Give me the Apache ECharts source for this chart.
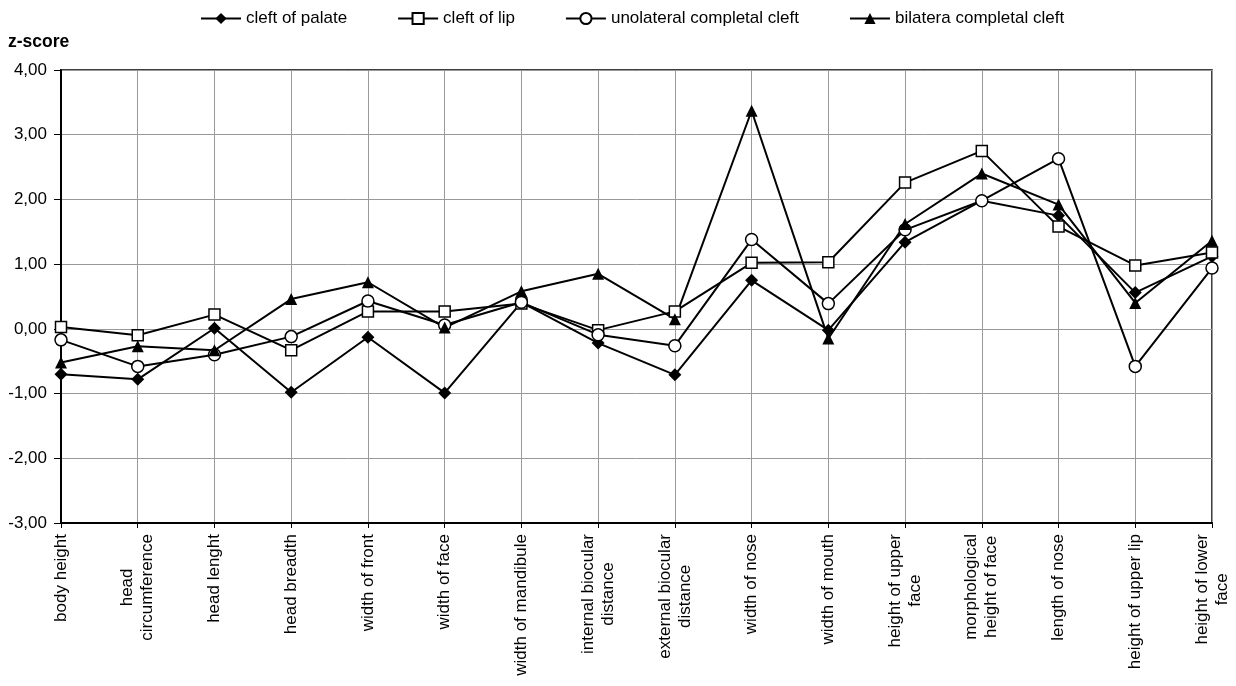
<!DOCTYPE html>
<html>
<head>
<meta charset="utf-8">
<script src="https://cdn.jsdelivr.net/npm/echarts@6/dist/echarts.min.js"></script>
<style>html,body{margin:0;padding:0;background:#fff;}#c{width:1236px;height:686px;}</style>
</head>
<body>
<div id="c"></div>
<script>
const categories = [
  'body height', 'head\ncircumference', 'head lenght', 'head breadth', 'width of front',
  'width of face', 'width of mandibule', 'internal biocular\ndistance', 'external biocular\ndistance',
  'width of nose', 'width of mouth', 'height of upper\nface', 'morphological\nheight of face',
  'length of nose', 'height of upper lip', 'height of lower\nface'
];
const cleftPalate = [-0.70, -0.78, 0.01, -0.98, -0.13, -0.99, 0.41, -0.22, -0.71, 0.75, -0.02, 1.34, 1.98, 1.75, 0.56, 1.12];
const cleftLip = [0.03, -0.10, 0.22, -0.33, 0.27, 0.27, 0.39, -0.02, 0.27, 1.02, 1.03, 2.26, 2.75, 1.58, 0.98, 1.18];
const unilateral = [-0.17, -0.58, -0.40, -0.12, 0.43, 0.06, 0.41, -0.09, -0.26, 1.38, 0.39, 1.53, 1.98, 2.63, -0.58, 0.94];
const bilateral = [-0.52, -0.27, -0.33, 0.46, 0.72, 0.02, 0.58, 0.85, 0.15, 3.37, -0.15, 1.62, 2.40, 1.92, 0.40, 1.36];
const seriesNames = ['cleft of palate', 'cleft of lip', 'unolateral completal cleft', 'bilatera completal cleft'];
const yMin = -3, yMax = 4, yStep = 1;

const FONT = 'Liberation Sans, Arial, sans-serif';
const FS = 17;
const chart = echarts.init(document.getElementById('c'));
function mk(name, data, symbol, size, fill) {
  return {
    name, type: 'line', data, symbol, symbolSize: size, showAllSymbol: true,
    lineStyle: { color: '#000', width: 2 },
    itemStyle: { color: fill, borderColor: '#000', borderWidth: fill === '#fff' ? 1.5 : 0 },
    emphasis: { disabled: true }, animation: false
  };
}
chart.setOption({
  animation: false,
  title: { text: 'z-score', left: 3, top: 28, textStyle: { fontFamily: FONT, fontSize: 17.5, fontWeight: 'bold', color: '#000' } },
  legend: {
    top: 5, left: 195, itemWidth: 40, itemHeight: 14, itemGap: 50,
    textStyle: { fontFamily: FONT, fontSize: FS, color: '#000' },
    data: seriesNames
  },
  grid: { left: 61, right: 24, top: 70, bottom: 163, show: true, borderColor: '#000', borderWidth: 1.5, containLabel: false },
  xAxis: {
    type: 'category', data: categories, boundaryGap: false,
    axisLine: { onZero: false, lineStyle: { color: '#000', width: 2 } },
    axisTick: { show: true, alignWithLabel: true, length: 5, lineStyle: { color: '#000' } },
    splitLine: { show: true, lineStyle: { color: '#999', width: 1 } },
    axisLabel: {
      rotate: 90, margin: 11, interval: 0, color: '#000', fontFamily: FONT, fontSize: FS,
      formatter: v => v.split('\n').map(l => '{c|' + l + '}').join('\n'),
      rich: { c: { align: 'center', fontFamily: FONT, fontSize: FS, color: '#000', lineHeight: 20 } }
    }
  },
  yAxis: {
    type: 'value', min: yMin, max: yMax, interval: yStep,
    axisLine: { show: true, lineStyle: { color: '#000', width: 2 } },
    axisTick: { show: true, length: 7, lineStyle: { color: '#000' } },
    splitLine: { show: true, lineStyle: { color: '#999', width: 1 } },
    axisLabel: { margin: 14, color: '#000', fontFamily: FONT, fontSize: FS, formatter: v => v.toFixed(2).replace('.', ',') }
  },
  series: [
    mk(seriesNames[0], cleftPalate, 'diamond', 13, '#000'),
    mk(seriesNames[1], cleftLip, 'rect', 11, '#fff'),
    mk(seriesNames[2], unilateral, 'circle', 12, '#fff'),
    mk(seriesNames[3], bilateral, 'triangle', 12, '#000')
  ]
});
</script>
</body>
</html>
